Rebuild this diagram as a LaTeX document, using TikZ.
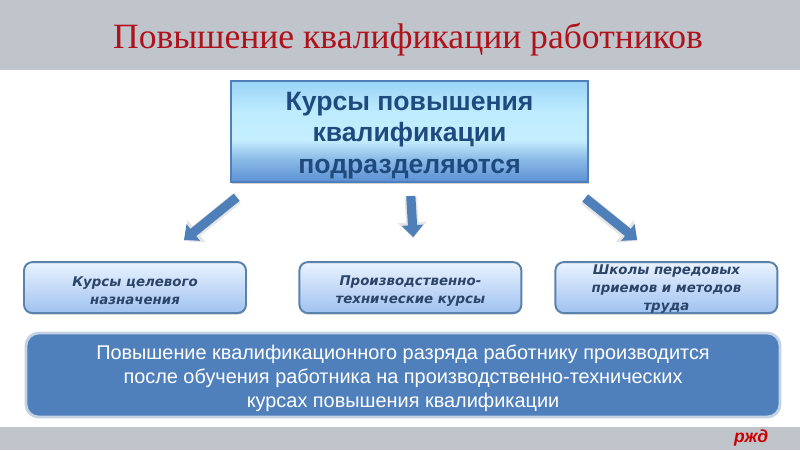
\documentclass[tikz,border=0pt]{standalone}
\usepackage{fontspec}
\setmainfont{Liberation Sans}
\newfontfamily\titlefont{Liberation Serif}
\newfontfamily\subfont{DejaVu Sans}
\usepackage{tikz}
\usetikzlibrary{positioning, arrows.meta, shadows}
\definecolor{bandgray}{HTML}{C0C5CC}
\definecolor{titlered}{HTML}{B0121B}
\definecolor{edgeblue}{HTML}{4F7FB8}
\definecolor{darkblue}{HTML}{1F4A7D}
\definecolor{subedge}{HTML}{5B82AC}
\definecolor{subtext}{HTML}{2C4468}
\definecolor{mainblue}{HTML}{4F80BC}
\definecolor{paleedge}{HTML}{C3D3E4}
\definecolor{mainA}{HTML}{5B8FD3}
\definecolor{mainB}{HTML}{8EBDE8}
\definecolor{mainC}{HTML}{C5EFFF}
\definecolor{mainD}{HTML}{BDEBFF}
\definecolor{mainE}{HTML}{9AD4F6}
\definecolor{subA}{HTML}{9FC2F0}
\definecolor{subB}{HTML}{EAF3FF}
\pgfdeclareverticalshading{mainshade}{100bp}{color(0bp)=(mainA); color(25bp)=(mainA); color(37bp)=(mainB); color(46bp)=(mainC); color(60bp)=(mainD); color(75bp)=(mainE); color(100bp)=(mainE)}
\pgfdeclareverticalshading{subshade}{100bp}{color(0bp)=(subA); color(25bp)=(subA); color(75bp)=(subB); color(100bp)=(subB)}
\begin{document}
\begin{tikzpicture}
		\tikzstyle{band} = [fill=bandgray, draw=none]
		\tikzstyle{mainbox} = [draw=edgeblue, line width=1.4pt, shading=mainshade, minimum width=8.925cm, minimum height=2.525cm, inner ysep=0pt, align=center, text=darkblue, font=\fontsize{18.9}{22.6}\selectfont\bfseries, drop shadow={shadow xshift=0.3pt, shadow yshift=-1pt, fill=black!35}]
		\tikzstyle{subbox} = [draw=subedge, line width=1.4pt, rounded corners=6pt, shading=subshade, minimum width=5.55cm, minimum height=1.275cm, inner ysep=0pt, align=center, text=subtext, font=\subfont\fontsize{9.5}{12.8}\selectfont\bfseries\itshape, drop shadow={shadow xshift=0.3pt, shadow yshift=-1pt, fill=black!30}]
		\tikzstyle{notebox} = [draw=paleedge, line width=2pt, rounded corners=9pt, fill=mainblue, minimum width=18.85cm, minimum height=2.1cm, inner ysep=0pt, align=center, text=white, font=\fontsize{14.15}{17.4}\selectfont]
		\tikzstyle{invisible} = [outer sep=0,inner sep=0,minimum size=0]
		\tikzstyle{bluearrow} = [-{Triangle[width=5.2mm,length=3mm]}, line width=2.3mm, draw=edgeblue, preaction={draw=black!10, line width=3.1mm, -{Triangle[width=7mm,length=4mm]}, transform canvas={yshift=-0.8pt}}]
		\useasboundingbox (0,0) rectangle (20,11.25);
		\fill [band] (0,9.5) rectangle (20,11.25);
		\fill [band] (0,0) rectangle (20,0.575);
		\node [invisible, text=titlered, font=\titlefont\fontsize{25.3}{30}\selectfont] (v_title) at (10.2,10.27) {Повышение квалификации работников};
		\node [mainbox] (v_main) at (10.24,7.96) {\rule{0pt}{18.5pt}Курсы повышения\\квалификации\\подразделяются};
		\node [subbox] (v_sub1) at (3.375,4.06) {\rule{0pt}{12pt}Курсы целевого\\назначения};
		\node [subbox] (v_sub2) at (10.26,4.06) {\rule{0pt}{12pt}Производственно-\\технические курсы};
		\node [subbox] (v_sub3) at (16.66,4.06) {\smash{\raisebox{-3pt}{\parbox[c]{5.1cm}{\centering Школы передовых\\приемов и методов\\труда}}}};
		\node [notebox] (v_note) at (10.075,1.875) {\rule{0pt}{15pt}Повышение квалификационного разряда работнику производится\\после обучения работника на производственно-технических\\курсах повышения квалификации};
		\node [invisible] (v1) at (5.92,6.32) {};
		\node [invisible] (v2) at (4.6,5.25) {};
		\node [invisible] (v3) at (10.27,6.35) {};
		\node [invisible] (v4) at (10.33,5.32) {};
		\node [invisible] (v5) at (14.63,6.3) {};
		\node [invisible] (v6) at (15.93,5.25) {};
		\draw [bluearrow] (v1) -- (v2);
		\draw [bluearrow] (v3) -- (v4);
		\draw [bluearrow] (v5) -- (v6);
		\node [invisible, text=red!80!black, font=\fontsize{12.5}{12.5}\selectfont\bfseries\itshape] (v_logo) at (18.78,0.3) {ржд};
\end{tikzpicture}
\end{document}
